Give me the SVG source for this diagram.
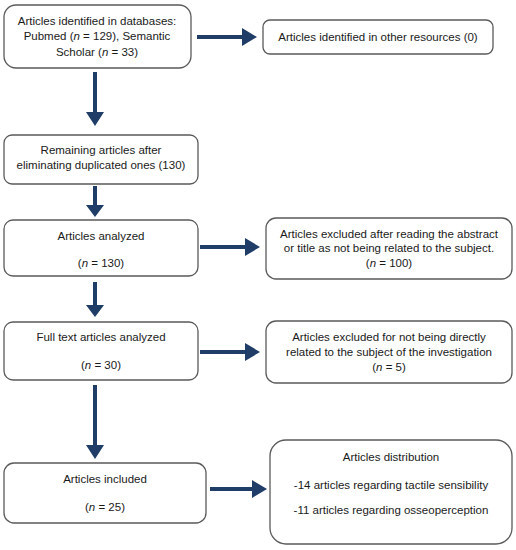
<svg xmlns="http://www.w3.org/2000/svg" width="516" height="550" viewBox="0 0 516 550">
<style>
.box{fill:#fff;stroke:#5a5a5a;stroke-width:1.3}
.t{font-family:"Liberation Sans",Arial,sans-serif;font-size:11.5px;fill:#1a1a1a;text-anchor:middle}
.i{font-style:italic}
.arr{fill:#1f3d66}
</style>
<rect width="516" height="550" fill="#fff"/>
<g id="connectors">
<path class="arr" d="M93,72 H97 V112 H104 L95,126 L86,112 H93 Z"/>
<path class="arr" d="M93,186 H97 V205 H104 L95,217 L86,205 H93 Z"/>
<path class="arr" d="M93,282 H97 V305 H104 L95,317 L86,305 H93 Z"/>
<path class="arr" d="M93,385 H97 V445 H104 L95,459 L86,445 H93 Z"/>
<path class="arr" d="M197,35 V39 H242 V46 L257,37 L242,28 V35 Z"/>
<path class="arr" d="M200,245 V249 H245 V256 L260,247 L245,238 V245 Z"/>
<path class="arr" d="M200,350 V354 H245 V361 L260,352 L245,343 V350 Z"/>
<path class="arr" d="M210,487 V491 H252 V498 L267,489 L252,480 V487 Z"/>
</g>
<g id="n1">
<rect class="box" x="4" y="5" width="187" height="63" rx="12"/>
<text class="t" x="97" y="25">Articles identified in databases:</text>
<text class="t" x="97" y="40">Pubmed (<tspan class="i">n</tspan> = 129), Semantic</text>
<text class="t" x="97" y="56">Scholar (<tspan class="i">n</tspan> = 33)</text>
</g>
<g id="n2">
<rect class="box" x="263" y="20" width="230" height="34" rx="7"/>
<text class="t" x="378" y="41">Articles identified in other resources (0)</text>
</g>
<g id="n3">
<rect class="box" x="4" y="135" width="194" height="49" rx="8"/>
<text class="t" x="101" y="154">Remaining articles after</text>
<text class="t" x="101" y="169">eliminating duplicated ones (130)</text>
</g>
<g id="n4">
<rect class="box" x="4" y="220" width="194" height="56" rx="9"/>
<text class="t" x="101" y="240">Articles analyzed</text>
<text class="t" x="101" y="267">(<tspan class="i">n</tspan> = 130)</text>
</g>
<g id="n5">
<rect class="box" x="266" y="218" width="246" height="61" rx="10"/>
<text class="t" x="389" y="238">Articles excluded after reading the abstract</text>
<text class="t" x="389" y="252">or title as not being related to the subject.</text>
<text class="t" x="389" y="267">(<tspan class="i">n</tspan> = 100)</text>
</g>
<g id="n6">
<rect class="box" x="4" y="322" width="194" height="58" rx="9"/>
<text class="t" x="101" y="341">Full text articles analyzed</text>
<text class="t" x="101" y="369">(<tspan class="i">n</tspan> = 30)</text>
</g>
<g id="n7">
<rect class="box" x="266" y="321" width="246" height="62" rx="10"/>
<text class="t" x="389" y="341">Articles excluded for not being directly</text>
<text class="t" x="389" y="356">related to the subject of the investigation</text>
<text class="t" x="389" y="371">(<tspan class="i">n</tspan> = 5)</text>
</g>
<g id="n8">
<rect class="box" x="4" y="463" width="202" height="60" rx="10"/>
<text class="t" x="105" y="483">Articles included</text>
<text class="t" x="105" y="511">(<tspan class="i">n</tspan> = 25)</text>
</g>
<g id="n9">
<rect class="box" x="270" y="440" width="242" height="104" rx="16"/>
<text class="t" x="391" y="461">Articles distribution</text>
<text class="t" x="391" y="489">-14 articles regarding tactile sensibility</text>
<text class="t" x="391" y="514">-11 articles regarding osseoperception</text>
</g>
</svg>
